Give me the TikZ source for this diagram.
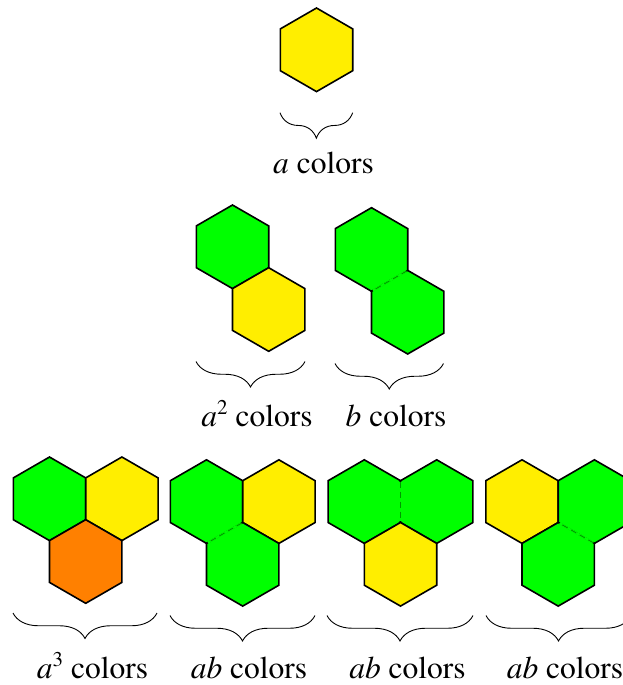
\documentclass[tikz,border=0pt]{standalone}
\usepackage{fontspec}
\setmainfont{texgyretermes}[Extension=.otf, UprightFont=*-regular, ItalicFont=*-italic, BoldFont=*-bold, BoldItalicFont=*-bolditalic]
\usetikzlibrary{decorations.pathreplacing}
\definecolor{hgreen}{RGB}{0,255,0}
\definecolor{hyellow}{RGB}{255,238,0}
\definecolor{horange}{RGB}{255,128,0}
\definecolor{hdash}{RGB}{0,150,0}
\newcommand{\hexR}{41.8}
\newcommand{\supdigit}[1]{\raisebox{12pt}{\fontsize{21}{21}\selectfont #1}}
\newcommand{\hexcellat}[4]{%
  \begin{scope}[shift={(#2,#3)}]
    \coordinate (#1) at (0,0);
    \coordinate (#1-LR) at (30:\hexR);
    \coordinate (#1-B) at (90:\hexR);
    \coordinate (#1-LL) at (150:\hexR);
    \coordinate (#1-UL) at (210:\hexR);
    \coordinate (#1-T) at (270:\hexR);
    \coordinate (#1-UR) at (330:\hexR);
    \filldraw[hexcell, fill=#4] (#1-LR) -- (#1-B) -- (#1-LL) -- (#1-UL) -- (#1-T) -- (#1-UR) -- cycle;
  \end{scope}}
\newcommand{\seamline}[2]{%
  \draw[line width=2.4pt, hgreen, shorten <=1.6pt, shorten >=1.6pt] (#1) -- (#2);
  \draw[seam] (#1) -- (#2);}
\begin{document}
\begin{tikzpicture}[x=1pt,y=-1pt,
  hexcell/.style={draw=black, line width=1.6pt},
  seam/.style={hdash, line width=0.9pt, dash pattern=on 6pt off 4pt, shorten <=1pt, shorten >=1pt},
  bracket/.style={decorate, decoration={brace, amplitude=25.5pt, mirror}, line width=0.9pt},
  lbl/.style={font=\rmfamily\fontsize{31.5}{36}\selectfont, anchor=base, inner sep=0pt}]
\useasboundingbox (0,0) rectangle (623,685);

% row 1
\hexcellat{h1}{316.5}{49.8}{hyellow}
\coordinate (b1l) at (280,112.7);
\coordinate (b1r) at (352.7,112.7);
\draw[bracket] (b1l) -- (b1r);
\node[lbl] (t1) at (323.5,173) {\textit{a} colors};

% row 2, a^2
\hexcellat{h2a}{232.5}{246.8}{hgreen}
\hexcellat{h2b}{268.7}{309.5}{hyellow}
\coordinate (b2l) at (196,361.5);
\coordinate (b2r) at (305,361.5);
\draw[bracket] (b2l) -- (b2r);
\node[lbl] (t2) at (257,426.5) {\textit{a}\supdigit{2} colors};

% row 2, b
\hexcellat{h3a}{371.5}{249.5}{hgreen}
\hexcellat{h3b}{407.7}{312.2}{hgreen}
\seamline{h3a-LR}{h3a-B}
\coordinate (b3l) at (335,363.5);
\coordinate (b3r) at (443.5,363.5);
\draw[bracket] (b3l) -- (b3r);
\node[lbl] (t3) at (396,426.5) {\textit{b} colors};

% row 3, a^3
\hexcellat{h4a}{49.5}{498.8}{hgreen}
\hexcellat{h4b}{121.9}{498.8}{hyellow}
\hexcellat{h4c}{85.7}{561.5}{horange}
\coordinate (b4l) at (13,613);
\coordinate (b4r) at (157,613);
\draw[bracket] (b4l) -- (b4r);
\node[lbl] (t4) at (92.5,678) {\textit{a}\supdigit{3} colors};

% row 3, ab (1)
\hexcellat{h5a}{206.5}{501.6}{hgreen}
\hexcellat{h5b}{278.9}{501.6}{hyellow}
\hexcellat{h5c}{242.7}{564.3}{hgreen}
\seamline{h5a-LR}{h5a-B}
\coordinate (b5l) at (170,615.5);
\coordinate (b5r) at (315,615.5);
\draw[bracket] (b5l) -- (b5r);
\node[lbl] (t5) at (249,678) {\textit{ab} colors};

% row 3, ab (2)
\hexcellat{h6a}{364.3}{501.6}{hgreen}
\hexcellat{h6b}{436.7}{501.6}{hgreen}
\hexcellat{h6c}{400.5}{564.3}{hyellow}
\seamline{h6a-UR}{h6a-LR}
\coordinate (b6l) at (327,615.5);
\coordinate (b6r) at (473,615.5);
\draw[bracket] (b6l) -- (b6r);
\node[lbl] (t6) at (407.5,678) {\textit{ab} colors};

% row 3, ab (3)
\hexcellat{h7a}{522}{501.6}{hyellow}
\hexcellat{h7b}{594.4}{501.6}{hgreen}
\hexcellat{h7c}{558.2}{564.3}{hgreen}
\seamline{h7b-B}{h7b-LL}
\coordinate (b7l) at (486,615.5);
\coordinate (b7r) at (631,615.5);
\draw[bracket] (b7l) -- (b7r);
\node[lbl] (t7) at (565,678) {\textit{ab} colors};
\end{tikzpicture}
\end{document}
